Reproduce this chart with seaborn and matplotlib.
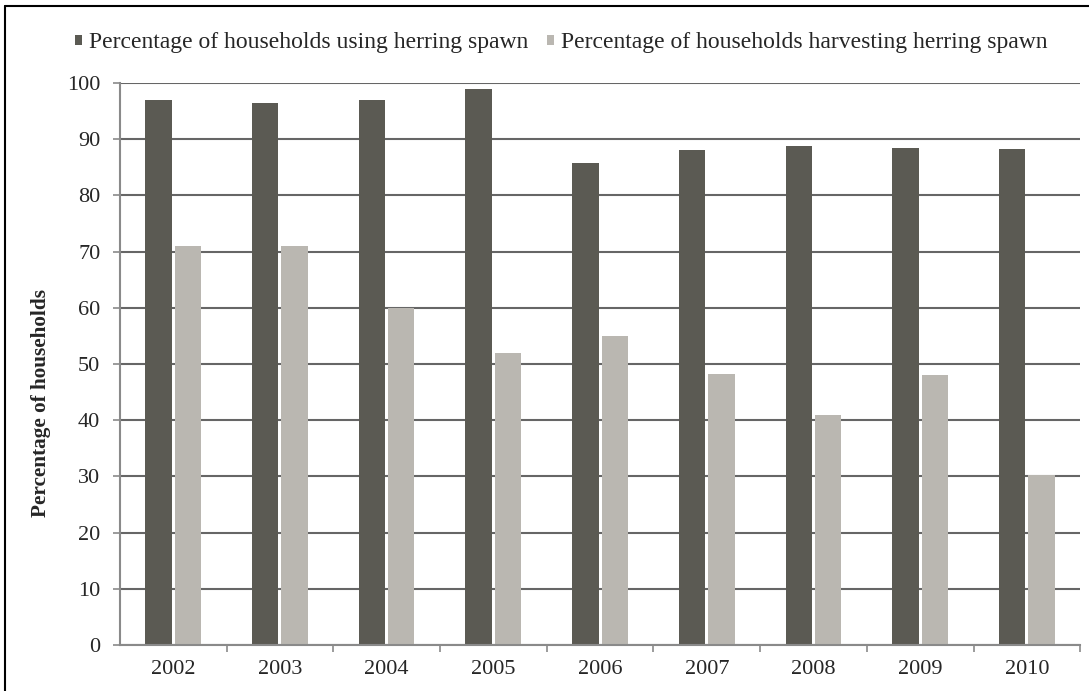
import pandas as pd
import matplotlib
matplotlib.use("Agg")
import matplotlib.pyplot as plt
import seaborn as sns

# chart data
years = ["2002", "2003", "2004", "2005", "2006", "2007", "2008", "2009", "2010"]
using_spawn = [97, 96.5, 97, 99, 85.8, 88.1, 88.7, 88.5, 88.3]
harvesting_spawn = [71, 71, 60, 52, 55, 48.3, 41, 48, 30.3]

label_use = "Percentage of households using herring spawn"
label_harv = "Percentage of households harvesting herring spawn"

df = pd.DataFrame({
    "year": years * 2,
    "value": using_spawn + harvesting_spawn,
    "series": [label_use] * len(years) + [label_harv] * len(years),
})

sns.set_style("white")
plt.rcParams["font.family"] = ["Liberation Serif", "DejaVu Serif"]

fig = plt.figure(figsize=(10.89, 6.91), dpi=100)
ax = fig.add_axes([0.110, 0.0666, 0.882, 0.8134])

palette = {label_use: "#5b5a53", label_harv: "#bab7b1"}
sns.barplot(data=df, x="year", y="value", hue="series", palette=palette,
            width=0.55, gap=0.1, saturation=1, ax=ax, linewidth=0)

ax.set_ylim(0, 100)
ax.set_xlim(-0.5, len(years) - 0.5)
ax.set_yticks(range(0, 101, 10))
ax.yaxis.grid(True, color="#666666", linewidth=1.5)
ax.set_axisbelow(True)

for side in ["top", "right"]:
    ax.spines[side].set_visible(False)
for side in ["left", "bottom"]:
    ax.spines[side].set_color("#8a8a8a")
    ax.spines[side].set_linewidth(1.5)

ax.tick_params(axis="y", direction="out", length=5, width=1.2, color="#8a8a8a",
               labelsize=16, pad=9, left=True)
ax.tick_params(axis="x", which="major", length=0, labelsize=16, pad=11)
ax.set_xticks([i - 0.5 for i in range(1, len(years) + 1)], minor=True)
ax.tick_params(axis="x", which="minor", direction="out", length=5, width=1.2,
               color="#8a8a8a", bottom=True)

ax.set_xlabel("")
ax.set_ylabel("Percentage of households", fontsize=15.3, fontweight="bold")
ax.yaxis.set_label_coords(-0.0715, 0.431)

ax.get_legend().remove()
handles, labels = ax.get_legend_handles_labels()
fig.legend(handles, labels, loc="center left", bbox_to_anchor=(0.049, 0.938),
           ncol=2, frameon=False, fontsize=17, handlelength=0.3, handleheight=0.3,
           handletextpad=0.3, columnspacing=0.8)

# frame lines at top and left of picture
fig.add_artist(plt.Line2D([0.005, 0.005], [0, 0.992], color="black", lw=1.5,
                          transform=fig.transFigure))
fig.add_artist(plt.Line2D([0.005, 1.0], [0.992, 0.992], color="black", lw=1.5,
                          transform=fig.transFigure))

fig.savefig("out.png", dpi=100)
